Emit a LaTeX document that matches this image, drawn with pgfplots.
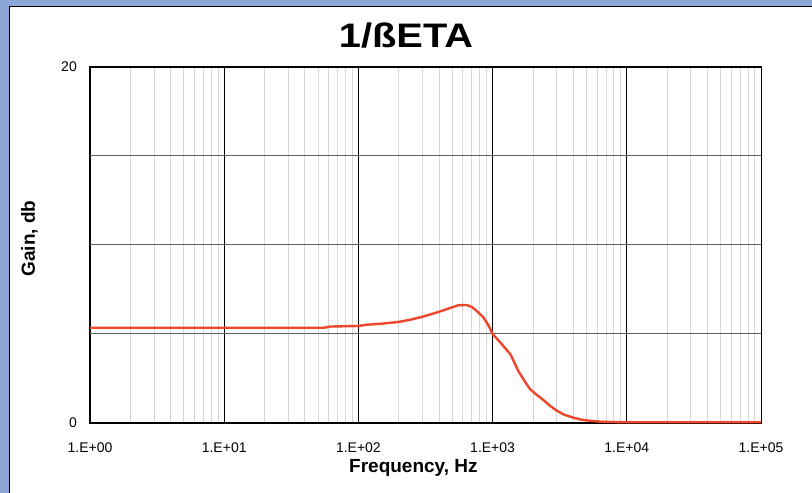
\documentclass[border=0pt]{standalone}
\usepackage{graphicx}
\usepackage{pgfplots}
\pgfplotsset{compat=1.18}
\usepackage{fontspec}
\setmainfont{Liberation Sans}
\definecolor{frameblue}{RGB}{140,166,214}
\definecolor{curvered}{RGB}{238,70,42}
\definecolor{minorgray}{RGB}{214,214,214}
\definecolor{majgray}{RGB}{95,95,95}

\begin{document}
\begin{tikzpicture}
% page = 812 x 493 px, axis box from (90,67) to (761,423) in image coords
\useasboundingbox (-90bp,-70bp) rectangle (722bp,423bp);
\fill[frameblue] (-90bp,-70bp) rectangle (722bp,423bp);
\fill[white] (-80bp,-70bp) rectangle (722bp,416bp);
\draw[black,line width=1.2bp] (-80.6bp,-70bp) -- (-80.6bp,416.6bp) -- (722bp,416.6bp);

\begin{axis}[
    at={(0,0)}, anchor=south west,
    scale only axis,
    width=671bp, height=356bp,
    xmode=log,
    xmin=1, xmax=100000,
    ymin=0, ymax=20,
    xtick={1,10,100,1000,10000,100000},
    xticklabels={1.E+00,1.E+01,1.E+02,1.E+03,1.E+04,1.E+05},
    ytick={0,5,10,15,20},
    yticklabels={0,,,,20},
    major tick length=0pt, minor tick length=0pt,
    xmajorgrids, xminorgrids, ymajorgrids,
    major x grid style={black, line width=0.8bp},
    minor x grid style={minorgray, line width=1bp},
    major y grid style={majgray, line width=1bp},
    axis line style={black, line width=1bp},
    tick label style={font=\fontsize{14bp}{16bp}\selectfont, inner sep=0pt},
    xticklabel style={anchor=base, yshift=-29bp},
    yticklabel style={anchor=east, xshift=-13bp},
    title={\scalebox{1.17}[1]{1/ßETA}},
    title style={font=\bfseries\fontsize{34bp}{36bp}\selectfont, at={(axis description cs:0.471,1.039)}, anchor=base, yshift=0pt, inner sep=0pt},
    xlabel={Frequency, Hz},
    ylabel={Gain, db},
    every axis x label/.style={at={(axis description cs:0.482,-0.1404)}, anchor=base,
        font=\bfseries\fontsize{19bp}{21bp}\selectfont, inner sep=0pt},
    every axis y label/.style={at={(axis description cs:-0.082,0.518)}, rotate=90, anchor=base,
        font=\bfseries\fontsize{19bp}{21bp}\selectfont, inner sep=0pt},
    clip=false,
]
\draw[black, line width=2bp] (rel axis cs:0,0) -- (rel axis cs:1,0);
\draw[black, line width=2bp] (rel axis cs:0,1) -- (rel axis cs:1,1);

\addplot[curvered, line width=2.4bp, line join=round] coordinates {
    (1,5.35) (10,5.35) (55,5.35) (62,5.42) (100,5.45) (115,5.52)
    (150,5.58) (200,5.68) (250,5.82) (300,5.97) (400,6.25) (500,6.5)
    (560,6.62) (640,6.63) (700,6.52) (760,6.3) (850,5.95) (930,5.5)
    (1000,5.0) (1150,4.5) (1360,3.85) (1560,2.9) (1750,2.3) (1900,1.9)
    (2100,1.62) (2400,1.28) (2700,0.95) (3000,0.7) (3400,0.47) (4000,0.3)
    (4600,0.18) (5400,0.12) (6500,0.07) (10000,0.04) (100000,0.04)
};
\end{axis}
\end{tikzpicture}
\end{document}
